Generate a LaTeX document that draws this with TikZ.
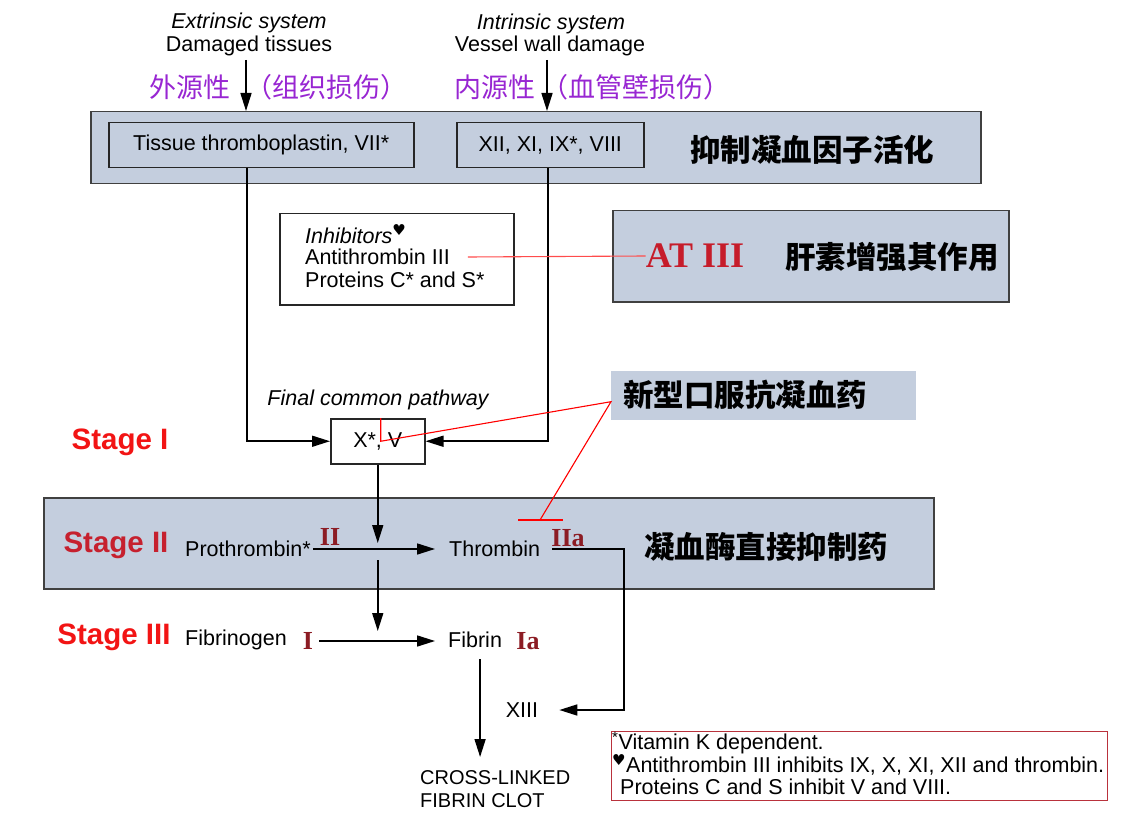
\documentclass[tikz,border=0pt]{standalone}
\usepackage{fontspec}
\setmainfont{Liberation Sans}
\newfontfamily\cjk{Noto Sans CJK SC}
\newfontfamily\romfont{Liberation Serif}
\newfontfamily\symfont{DejaVu Sans}
\usepackage{tikz}
\usetikzlibrary{arrows.meta, positioning}
\definecolor{bandblue}{RGB}{196,206,222}
\definecolor{cnpurple}{RGB}{152,38,210}
\definecolor{stagered}{RGB}{242,20,20}
\definecolor{stagedark}{RGB}{198,32,46}
\definecolor{numred}{RGB}{140,28,36}
\definecolor{atred}{RGB}{198,28,42}
\definecolor{notered}{RGB}{185,50,60}

\begin{document}
\begin{tikzpicture}[
    x=1pt, y=-1pt,
    band/.style={draw=black!75, fill=bandblue, line width=1.5pt, anchor=north west, inner sep=0pt},
    fbox/.style={draw=black!85, line width=1.5pt, anchor=north west, inner sep=0pt, font=\fontsize{21.5}{25}\selectfont},
    lbl/.style={inner sep=0pt, font=\fontsize{21.5}{25}\selectfont},
    itlbl/.style={lbl, font=\itshape\fontsize{21.5}{25}\selectfont},
    cnlbl/.style={inner sep=0pt, text=cnpurple, font=\cjk\fontsize{27}{30}\selectfont},
    cnhead/.style={inner sep=0pt, font=\cjk\bfseries\fontsize{30.5}{34}\selectfont},
    stage/.style={inner sep=0pt, font=\bfseries\fontsize{29.5}{34}\selectfont},
    roman/.style={inner sep=0pt, text=numred, font=\romfont\bfseries\fontsize{26}{30}\selectfont},
    arr/.style={-{Triangle[length=18pt,width=11pt]}, line width=1.6pt},
    link/.style={line width=1.1pt, draw=red},
]
\useasboundingbox (0,0) rectangle (1140,818);

% sources of activation
\node[itlbl] (extr) at (249,23) {Extrinsic system};
\node[lbl] (dmg) at (249,46) {Damaged tissues};
\node[itlbl] (intr) at (551,24) {Intrinsic system};
\node[lbl] (vwd) at (550,46) {Vessel wall damage};
\node[cnlbl, anchor=west] (extcn) at (149,87) {外源性};
\node[cnlbl, anchor=west] (extcnp) at (245,87) {（组织损伤）};
\node[cnlbl, anchor=west] (intcn) at (454,87) {内源性};
\node[cnlbl, anchor=west] (intcnp) at (541,87) {（血管壁损伤）};
\coordinate (extin) at (246,60);
\coordinate (intin) at (547,60);

% factor activation band
\node[band, minimum width=890pt, minimum height=72pt] (actband) at (90,111) {};
\node[fbox, minimum width=305pt, minimum height=45pt] (tissue) at (108,122) {Tissue thromboplastin, VII*};
\node[fbox, minimum width=187pt, minimum height=45pt] (contact) at (456,122) {XII, XI, IX*, VIII};
\node[cnhead] (inhact) at (812,150) {抑制凝血因子活化};

% inhibitors
\node[fbox, fill=white, minimum width=234pt, minimum height=91pt] (inhbox) at (279,213) {};
\node[itlbl, anchor=west] (inhtitle) at (305,234) {Inhibitors\textsuperscript{\symfont ♥}};
\node[lbl, anchor=west] (anti) at (305,257) {Antithrombin III};
\node[lbl, anchor=west] (protcs) at (305,280) {Proteins C* and S*};
\node[band, minimum width=396pt, minimum height=91pt] (atbox) at (612,210) {};
\node[inner sep=0pt, text=atred, font=\romfont\bfseries\fontsize{36}{40}\selectfont] (atiii) at (695,256) {AT III};
\node[cnhead] (heparin) at (892,257) {肝素增强其作用};

% stage I
\node[itlbl] (fcp) at (378,400) {Final common pathway};
\node[fbox, fill=white, minimum width=94pt, minimum height=45pt] (xv) at (330,418) {X*, V};
\node[stage, text=stagered] (st1) at (120,442) {Stage I};
\node[anchor=north west, fill=bandblue, minimum width=305pt, minimum height=49pt] (oralbox) at (611,371) {};
\node[cnhead] (oral) at (745,395) {新型口服抗凝血药};

% stage II
\node[band, minimum width=890pt, minimum height=91pt] (thrband) at (43,497) {};
\node[stage, text=stagedark] (st2) at (116,545) {Stage II};
\node[lbl, anchor=west] (prot) at (185,549) {Prothrombin*};
\node[roman] (fii) at (330,537) {II};
\node[lbl, anchor=west] (thr) at (449,549) {Thrombin};
\node[roman] (fiia) at (568,538) {IIa};
\node[cnhead] (dti) at (766,547) {凝血酶直接抑制药};
\coordinate (thrinh) at (540,520);

% stage III
\node[stage, text=stagered] (st3) at (114,637) {Stage III};
\node[lbl, anchor=west] (fbg) at (185,640) {Fibrinogen};
\node[roman] (fi) at (308,641) {I};
\node[lbl, anchor=west] (fib) at (448,640) {Fibrin};
\node[roman] (fia) at (528,641) {Ia};
\node[lbl] (xiii) at (522,710) {XIII};
\node[lbl, anchor=north west, align=left, font=\fontsize{20}{23}\selectfont] (clot) at (420,770) {CROSS-LINKED\\FIBRIN CLOT};

% footnotes
\node[anchor=north west, draw=notered, line width=1pt, minimum width=496pt, minimum height=69pt] (note) at (611,731) {};
\node[lbl, anchor=west] (note1) at (612,743) {\textsuperscript{*}Vitamin K dependent.};
\node[lbl, anchor=west] (note2) at (612,765) {\textsuperscript{\symfont ♥}Antithrombin III inhibits IX, X, XI, XII and thrombin.};
\node[lbl, anchor=west] (note3) at (620,787) {Proteins C and S inhibit V and VIII.};

% cascade
\draw[arr] (extin) -- (extin |- actband.north);
\draw[arr] (intin) -- (intin |- actband.north);
\draw[arr] ([xshift=-14.5pt]tissue.south) |- (xv.west);
\draw[arr] ([xshift=-2.5pt]contact.south) |- (xv.east);
\coordinate (prjoin) at (xv.south |- prot.east);
\draw[arr, shorten >=6pt] (xv.south) -- (prjoin);
\draw[arr, shorten <=2pt, shorten >=14pt] (prot.east) -- (thr.west);
\draw[arr, shorten >=9pt] ([yshift=-11pt]prjoin) -- (prjoin |- fbg.east);
\draw[arr, shorten <=6pt, shorten >=13pt] (fi.east) -- (fi.east -| fib.west);
\draw[arr, shorten >=21pt] ([xshift=12pt]thr.east) -- ++(72,0) |- (xiii.east);
\coordinate (fibout) at ([xshift=5pt,yshift=-11pt]fib.south);
\draw[arr, shorten >=13pt] (fibout) -- (fibout |- clot.north);

% drug targets
\draw[link, red!70] (anti.east) ++(18,0) -- (atiii.west);
\draw[link] ([xshift=3pt]xv.north) -- ([xshift=3pt]xv.center) -- ([yshift=-6pt]oralbox.west) -- (thrinh);
\draw[link] ([xshift=-22pt]thrinh) -- ([xshift=23pt]thrinh);
\end{tikzpicture}
\end{document}
